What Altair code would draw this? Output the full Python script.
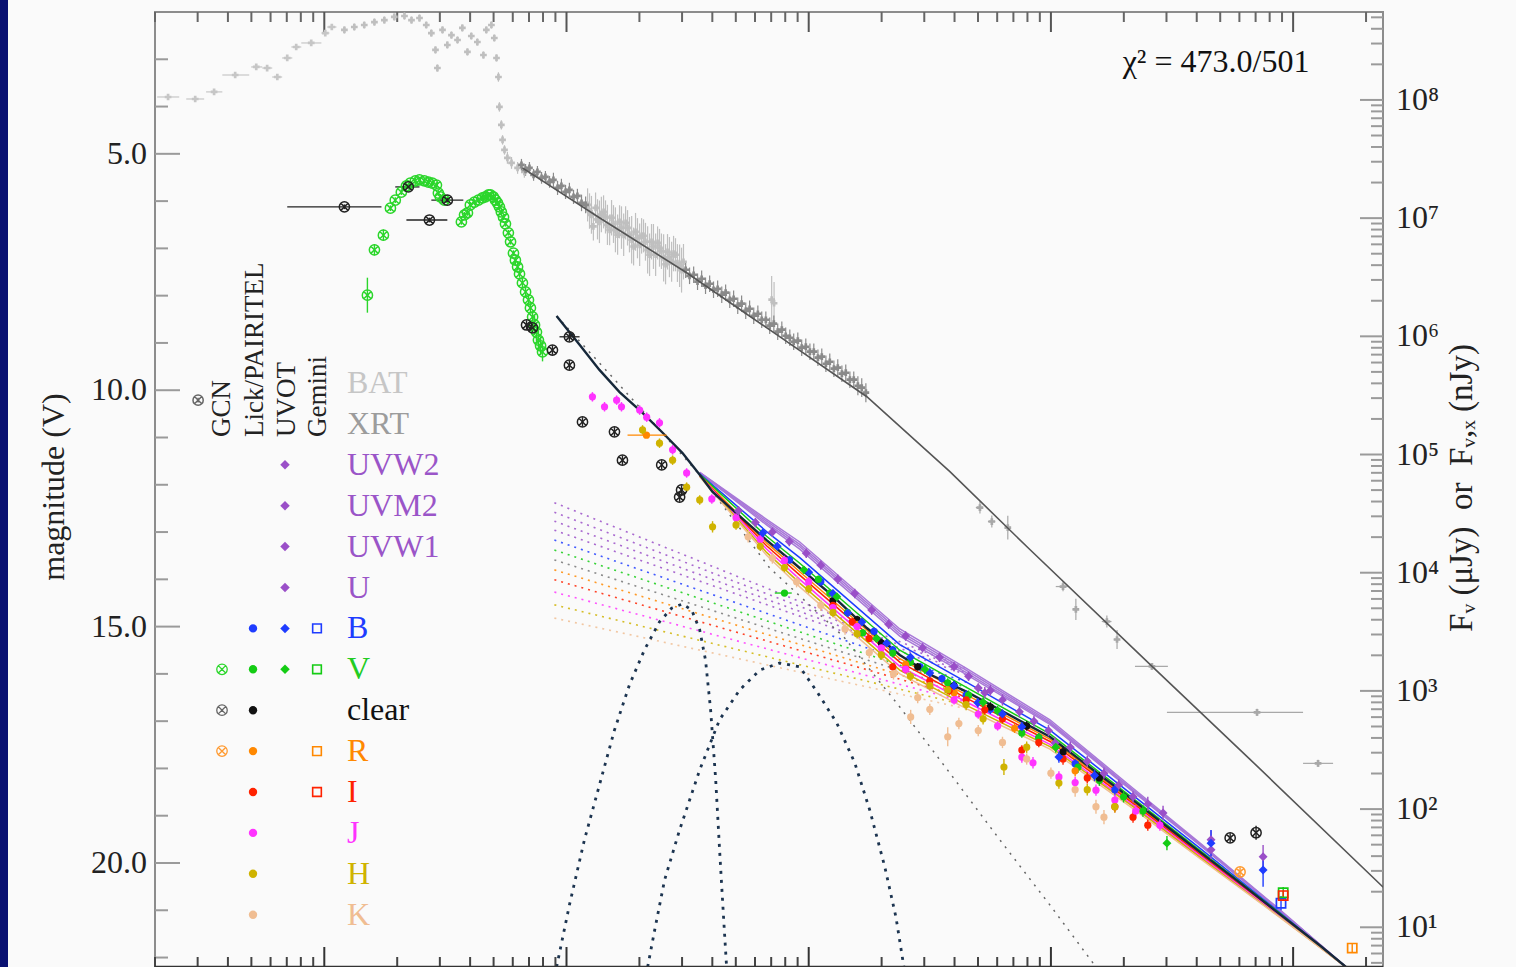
import math
import altair as alt
import pandas as pd

# ===================== values =====================
# time: log10(t / s); X-ray / gamma flux: log10(F) on the right axis; optical: magnitudes

# BAT early binned points: (log t, log t low, log t high, log F)
BAT_BINS = [
    (0.355, 0.310, 0.401, 8.025), (0.467, 0.430, 0.504, 8.008),
    (0.545, 0.512, 0.579, 8.068), (0.632, 0.579, 0.690, 8.211),
    (0.719, 0.698, 0.744, 8.279), (0.764, 0.744, 0.785, 8.270),
    (0.806, 0.785, 0.826, 8.194), (0.847, 0.826, 0.868, 8.355),
    (0.884, 0.864, 0.905, 8.448), (0.946, 0.905, 0.988, 8.482),
    (1.004, 0.988, 1.021, 8.566), (1.031, 1.012, 1.050, 8.617),
]
# BAT finer points: (log t, log F, err dex)
BAT_PTS = [
    (1.083, 8.592, 0.03), (1.124, 8.617, 0.03), (1.165, 8.634, 0.03), (1.207, 8.659, 0.03),
    (1.248, 8.676, 0.03), (1.289, 8.702, 0.03), (1.331, 8.710, 0.03), (1.360, 8.676, 0.03),
    (1.393, 8.693, 0.03), (1.421, 8.634, 0.03), (1.442, 8.566, 0.03), (1.459, 8.423, 0.03),
    (1.467, 8.270, 0.03), (1.488, 8.592, 0.03), (1.508, 8.465, 0.03), (1.525, 8.549, 0.03),
    (1.550, 8.507, 0.03), (1.570, 8.609, 0.03), (1.591, 8.406, 0.03), (1.607, 8.541, 0.03),
    (1.632, 8.490, 0.03), (1.657, 8.380, 0.03), (1.669, 8.592, 0.03), (1.690, 8.634, 0.03),
    (1.702, 8.524, 0.03), (1.711, 8.355, 0.03), (1.719, 8.194, 0.04), (1.723, 7.941, 0.04),
    (1.731, 7.789, 0.04), (1.736, 7.662, 0.04), (1.744, 7.577, 0.04), (1.756, 7.510, 0.05),
    (1.773, 7.467, 0.05), (1.798, 7.425, 0.05), (1.826, 7.391, 0.05),
]
# BAT extended (light cloud): (log t, log F, err dex)
BAT_EXT = [
    (2.087, 7.112, 0.14), (2.103, 7.028, 0.16), (2.120, 7.087, 0.13), (2.136, 6.969, 0.18),
    (2.153, 7.053, 0.14), (2.169, 6.943, 0.17), (2.186, 7.003, 0.15), (2.202, 6.901, 0.19),
    (2.219, 6.969, 0.14), (2.236, 6.859, 0.18), (2.252, 6.918, 0.15), (2.269, 6.817, 0.20),
    (2.285, 6.884, 0.16), (2.302, 6.774, 0.18), (2.318, 6.850, 0.14), (2.335, 6.732, 0.20),
    (2.351, 6.800, 0.15), (2.368, 6.690, 0.18), (2.384, 6.749, 0.16), (2.401, 6.664, 0.20),
    (2.417, 6.715, 0.15), (2.434, 6.631, 0.17), (2.450, 6.690, 0.14), (2.467, 6.597, 0.18),
    (2.483, 6.631, 0.15), (2.095, 7.060, 0.15), (2.128, 6.990, 0.17), (2.161, 7.010, 0.14),
    (2.194, 6.950, 0.16), (2.227, 6.920, 0.18), (2.260, 6.860, 0.15), (2.293, 6.830, 0.17),
    (2.326, 6.800, 0.16), (2.359, 6.760, 0.19), (2.392, 6.720, 0.15), (2.425, 6.670, 0.17),
    (2.458, 6.620, 0.16), (2.847, 6.310, 0.20), (2.857, 6.280, 0.18),
    (2.111, 6.930, 0.12), (2.144, 7.030, 0.15), (2.178, 6.900, 0.13), (2.211, 6.860, 0.17),
    (2.244, 6.960, 0.14), (2.277, 6.760, 0.16), (2.310, 6.850, 0.15), (2.343, 6.690, 0.18),
    (2.376, 6.790, 0.14), (2.409, 6.610, 0.17), (2.442, 6.700, 0.15), (2.475, 6.560, 0.19),
]
# XRT dense points: (log t, log F, err dex)
XRT_PTS = [
    (1.814, 7.451, 0.05), (1.831, 7.408, 0.05), (1.847, 7.425, 0.05), (1.864, 7.366, 0.05),
    (1.880, 7.391, 0.05), (1.897, 7.341, 0.05), (1.913, 7.349, 0.05), (1.930, 7.307, 0.05),
    (1.946, 7.324, 0.06), (1.963, 7.256, 0.06), (1.979, 7.273, 0.06), (1.996, 7.222, 0.06),
    (2.012, 7.239, 0.06), (2.029, 7.180, 0.06), (2.045, 7.188, 0.06), (2.062, 7.129, 0.07),
    (2.079, 7.112, 0.07),
    (2.492, 6.563, 0.07), (2.508, 6.512, 0.07), (2.525, 6.521, 0.07), (2.541, 6.462, 0.07),
    (2.558, 6.487, 0.07), (2.574, 6.428, 0.07), (2.591, 6.445, 0.07), (2.607, 6.394, 0.07),
    (2.624, 6.402, 0.07), (2.641, 6.352, 0.07), (2.657, 6.369, 0.07), (2.674, 6.309, 0.07),
    (2.690, 6.318, 0.07), (2.707, 6.259, 0.07), (2.723, 6.276, 0.07), (2.740, 6.216, 0.07),
    (2.756, 6.233, 0.07), (2.773, 6.174, 0.07), (2.790, 6.191, 0.07), (2.806, 6.140, 0.07),
    (2.823, 6.140, 0.07), (2.839, 6.090, 0.07), (2.856, 6.107, 0.07), (2.872, 6.039, 0.07),
    (2.889, 6.056, 0.07), (2.905, 6.005, 0.07), (2.922, 5.988, 0.07), (2.938, 5.954, 0.07),
    (2.955, 5.963, 0.07), (2.971, 5.904, 0.07), (2.988, 5.912, 0.07), (3.005, 5.870, 0.07),
    (3.021, 5.870, 0.07), (3.038, 5.819, 0.07), (3.054, 5.828, 0.07), (3.071, 5.768, 0.07),
    (3.087, 5.785, 0.07), (3.104, 5.726, 0.07), (3.120, 5.735, 0.07), (3.137, 5.684, 0.07),
    (3.153, 5.692, 0.07), (3.170, 5.633, 0.07), (3.186, 5.633, 0.07), (3.203, 5.582, 0.08),
    (3.219, 5.566, 0.08), (3.236, 5.523, 0.08),
]
# XRT late points: (log t, log F, err dex, log t low, log t high)
XRT_LATE = [
    (3.707, 4.551, 0.05, 3.69, 3.72), (3.756, 4.433, 0.05, 3.74, 3.77),
    (3.822, 4.382, 0.10, 3.81, 3.83), (4.050, 3.883, 0.04, 4.02, 4.07),
    (4.103, 3.689, 0.09, 4.09, 4.11), (4.231, 3.587, 0.05, 4.21, 4.25),
    (4.273, 3.435, 0.08, 4.26, 4.28), (4.417, 3.207, 0.03, 4.347, 4.483),
    (4.851, 2.818, 0.03, 4.479, 5.041), (5.103, 2.387, 0.03, 5.041, 5.165),
]
# X-ray model curve: (log t, log F)
XRAY_MODEL = [
    (1.818, 7.425), (2.136, 7.003), (2.496, 6.538), (2.880, 5.997), (3.240, 5.489),
    (3.583, 4.855), (3.913, 4.196), (4.409, 3.224), (4.822, 2.421), (5.372, 1.339),
]

# ---- optical ----
GCN_V_LOGT = [1.178, 1.207, 1.244, 1.273, 1.293, 1.318, 1.339, 1.355, 1.376, 1.393,
              1.413, 1.430, 1.446, 1.463, 1.471, 1.479, 1.496, 1.566, 1.579, 1.591,
              1.603, 1.620, 1.636, 1.653, 1.665, 1.678, 1.686, 1.698, 1.707, 1.715,
              1.723, 1.731, 1.740, 1.748, 1.760, 1.769, 1.781, 1.789, 1.798, 1.806,
              1.818, 1.831, 1.843, 1.851, 1.860, 1.868, 1.876, 1.884, 1.893, 1.901]
GCN_V_MAG = [7.99, 7.03, 6.72, 6.15, 5.98, 5.81, 5.68, 5.62, 5.57, 5.55,
             5.57, 5.60, 5.62, 5.66, 5.83, 5.91, 5.98, 6.44, 6.29, 6.25,
             6.08, 6.02, 5.98, 5.93, 5.91, 5.87, 5.87, 5.91, 5.98, 6.04,
             6.12, 6.23, 6.34, 6.48, 6.67, 6.86, 7.10, 7.25, 7.39, 7.54,
             7.73, 7.92, 8.09, 8.26, 8.45, 8.62, 8.77, 8.94, 9.06, 9.19]
GCN_V_ERR = [0.37, 0.12, 0.12, 0.06, 0.06, 0.06, 0.06, 0.06, 0.06, 0.06,
             0.06, 0.06, 0.06, 0.06, 0.06, 0.06, 0.06, 0.06, 0.06, 0.06,
             0.06, 0.06, 0.06, 0.06, 0.06, 0.06, 0.06, 0.06, 0.06, 0.06,
             0.06, 0.06, 0.06, 0.06, 0.06, 0.06, 0.06, 0.08, 0.08, 0.08,
             0.10, 0.10, 0.10, 0.10, 0.10, 0.20, 0.20, 0.20, 0.20, 0.20]
# (log t, mag, err, log t low, log t high)
GCN_CLEAR = [
    (1.083, 6.12, 0.05, 0.847, 1.236), (1.347, 5.70, 0.05, 1.293, 1.393),
    (1.434, 6.40, 0.05, 1.339, 1.508), (1.508, 5.98, 0.05, 1.442, 1.574),
    (1.835, 8.62, 0.10), (1.860, 8.68, 0.10), (1.942, 9.15, 0.10), (2.012, 9.47, 0.10),
    (2.012, 8.87, 0.10, 1.971, 2.054), (2.066, 10.67, 0.10), (2.198, 10.88, 0.10),
    (2.231, 11.48, 0.10), (2.393, 11.58, 0.10), (2.467, 12.26, 0.10), (2.475, 12.11, 0.10),
    (4.740, 19.47, 0.10), (4.847, 19.36, 0.15),
]
GCN_CLEAR_EARLY = [(0.479, 10.21, 0.05)]
GCN_R = [(4.781, 20.19, 0.10)]

LICK_B = [(2.921, 13.59, 0.08), (3.05, 14.05, 0.08), (3.27, 15.10, 0.08), (3.347, 15.49, 0.08),
          (3.46, 15.85, 0.08), (3.55, 16.10, 0.08), (3.65, 16.45, 0.10), (3.75, 16.75, 0.10),
          (3.95, 17.35, 0.10), (4.10, 17.90, 0.10), (4.264, 18.45, 0.12)]
LICK_V = [(2.90, 14.29, 0.06, 2.86, 2.93), (3.04, 14.00, 0.08), (3.087, 14.29, 0.08),
          (3.16, 14.70, 0.08), (3.223, 15.13, 0.08), (3.347, 15.56, 0.08), (3.42, 15.75, 0.08),
          (3.574, 16.19, 0.10), (3.66, 16.45, 0.10), (3.78, 16.78, 0.10), (3.880, 17.25, 0.10),
          (3.95, 17.35, 0.10), (4.112, 17.97, 0.12), (4.20, 18.25, 0.12), (4.30, 18.60, 0.12),
          (4.38, 18.90, 0.12)]
LICK_CLEAR = [(3.10, 14.45, 0.08), (3.20, 14.85, 0.08), (3.30, 15.35, 0.08), (3.45, 15.85, 0.08),
              (3.60, 16.25, 0.10), (3.75, 16.70, 0.10), (3.90, 17.10, 0.10), (4.05, 17.65, 0.12),
              (4.20, 18.20, 0.12)]
LICK_R = [(2.33, 10.95, 0.05, 2.252, 2.413), (3.20, 14.95, 0.08), (3.40, 15.80, 0.08),
          (3.60, 16.40, 0.10), (3.85, 17.15, 0.10), (4.10, 18.05, 0.12)]
LICK_I = [(3.10, 14.55, 0.08), (3.18, 14.90, 0.08), (3.25, 15.25, 0.08), (3.347, 15.85, 0.08),
          (3.40, 15.90, 0.08), (3.50, 16.15, 0.08), (3.58, 16.35, 0.10), (3.65, 16.55, 0.10),
          (3.727, 16.76, 0.10), (3.80, 16.95, 0.10), (3.880, 17.61, 0.10), (3.95, 17.45, 0.10),
          (4.05, 17.80, 0.12), (4.15, 18.20, 0.12), (4.264, 18.81, 0.12), (4.339, 19.03, 0.12),
          (4.40, 19.20, 0.12)]
LICK_J = [(2.107, 10.14, 0.10), (2.157, 10.35, 0.10), (2.207, 10.21, 0.10), (2.227, 10.35, 0.10),
          (2.302, 10.42, 0.10), (2.331, 10.57, 0.10), (2.384, 10.69, 0.10), (2.438, 11.26, 0.10),
          (2.496, 11.75, 0.10), (2.60, 12.30, 0.10), (2.70, 12.70, 0.10), (2.80, 13.15, 0.10),
          (2.90, 13.60, 0.10), (3.00, 14.05, 0.10), (3.10, 14.60, 0.10), (3.20, 15.00, 0.10),
          (3.30, 15.45, 0.10), (3.40, 15.90, 0.10), (3.50, 16.25, 0.10), (3.60, 16.55, 0.10),
          (3.70, 16.85, 0.10), (3.78, 17.10, 0.10), (3.880, 17.76, 0.12), (3.926, 17.88, 0.12),
          (4.033, 18.18, 0.12), (4.10, 18.30, 0.12), (4.186, 18.46, 0.12), (4.264, 18.67, 0.12),
          (4.35, 18.90, 0.12), (4.45, 19.20, 0.12)]
LICK_H = [(2.314, 10.84, 0.10), (2.384, 11.12, 0.10), (2.438, 11.48, 0.10), (2.496, 12.05, 0.10),
          (2.550, 12.32, 0.10), (2.603, 12.89, 0.12), (2.70, 12.85, 0.10), (2.80, 13.30, 0.10),
          (2.90, 13.75, 0.10), (3.00, 14.20, 0.10), (3.10, 14.70, 0.10), (3.20, 15.15, 0.10),
          (3.30, 15.60, 0.10), (3.42, 16.05, 0.10), (3.50, 16.25, 0.10), (3.574, 16.34, 0.10),
          (3.65, 16.65, 0.12), (3.72, 16.95, 0.12), (3.806, 17.97, 0.17), (3.90, 17.55, 0.12),
          (4.033, 18.31, 0.12), (4.15, 18.45, 0.12), (4.264, 18.81, 0.12)]
LICK_K = [(2.75, 13.10, 0.12), (2.85, 13.55, 0.12), (2.95, 14.05, 0.12), (3.05, 14.55, 0.12),
          (3.15, 15.05, 0.12), (3.25, 15.55, 0.12), (3.35, 16.00, 0.12), (3.421, 16.91, 0.15),
          (3.45, 16.50, 0.12), (3.50, 16.75, 0.12), (3.574, 17.33, 0.20), (3.62, 17.05, 0.12),
          (3.70, 17.20, 0.12), (3.80, 17.45, 0.12), (3.90, 17.80, 0.12), (4.00, 18.10, 0.12),
          (4.10, 18.45, 0.15), (4.186, 18.81, 0.15), (4.219, 19.03, 0.15)]

UVOT_UVW2 = [(2.71, 12.55, 0.10), (2.99, 13.45, 0.10), (3.26, 14.65, 0.10), (3.54, 15.65, 0.10),
             (3.727, 16.40, 0.12), (3.93, 17.00, 0.12), (4.15, 17.85, 0.12), (4.40, 18.75, 0.15),
             (4.661, 19.51, 0.20)]
UVOT_UVM2 = [(2.78, 12.80, 0.10), (3.05, 13.70, 0.10), (3.33, 14.95, 0.10), (3.60, 15.85, 0.10),
             (3.75, 16.35, 0.12), (3.99, 17.20, 0.12), (4.219, 18.10, 0.12), (4.463, 18.94, 0.15),
             (4.876, 19.87, 0.25)]
UVOT_UVW1 = [(2.85, 13.00, 0.10), (3.12, 14.00, 0.10), (3.40, 15.20, 0.10), (3.66, 16.05, 0.10),
             (3.80, 16.55, 0.12), (4.017, 17.46, 0.12), (4.28, 18.35, 0.12), (4.661, 19.72, 0.20)]
UVOT_U = [(2.92, 13.20, 0.10), (3.19, 14.30, 0.10), (3.47, 15.45, 0.10), (3.70, 16.30, 0.10),
          (3.87, 16.80, 0.12), (4.08, 17.55, 0.12), (4.339, 18.60, 0.12)]
UVOT_B = [(2.810, 13.02, 0.08), (2.87, 13.30, 0.08), (3.00, 13.85, 0.08), (3.10, 14.30, 0.08),
          (3.161, 14.71, 0.08), (3.22, 14.90, 0.08), (3.322, 15.35, 0.08), (3.42, 15.65, 0.08),
          (3.500, 15.98, 0.10), (3.60, 16.25, 0.10), (3.698, 16.61, 0.10), (3.80, 16.85, 0.10),
          (3.880, 17.12, 0.10), (4.033, 17.76, 0.12), (4.18, 18.15, 0.12), (4.661, 19.58, 0.28),
          (4.876, 20.15, 0.35)]
UVOT_V = [(2.98, 13.80, 0.08), (3.116, 14.37, 0.08), (3.28, 15.25, 0.08), (3.48, 15.90, 0.10),
          (3.72, 16.60, 0.10), (4.02, 17.55, 0.12), (4.479, 19.58, 0.15)]

GEMINI_B = [(4.950, 20.85, 0.15)]
GEMINI_V = [(4.959, 20.63, 0.12)]
GEMINI_R = [(5.244, 21.80, 0.10)]
GEMINI_I = [(4.959, 20.69, 0.10)]

# total optical model (clear / V normalisation): (log t, mag)
MODEL_CLEAR = [
    (1.959, 8.43), (2.054, 9.04), (2.136, 9.57), (2.219, 10.04), (2.314, 10.48),
    (2.397, 10.90), (2.479, 11.33), (2.550, 11.79), (2.603, 12.15), (2.686, 12.53),
    (2.826, 13.17), (2.963, 13.76), (3.099, 14.35), (3.240, 15.03), (3.376, 15.60),
    (3.512, 16.04), (3.653, 16.38), (3.789, 16.76), (3.996, 17.33), (4.202, 18.14),
    (4.339, 18.67), (4.492, 19.28), (4.616, 19.77), (4.781, 20.42), (4.934, 21.04),
    (5.112, 21.75), (5.223, 22.22),
]
MODEL_LOGT = [2.55, 2.826, 2.963, 3.376, 3.653, 3.996, 4.339, 4.616, 4.934, 5.223]
MODEL_BANDS = {
    'UVW2': [11.74, 12.73, 13.21, 15.05, 15.89, 16.97, 18.42, 19.58, 20.94, 22.22],
    'UVM2': [11.74, 12.77, 13.26, 15.10, 15.93, 17.01, 18.45, 19.60, 20.95, 22.22],
    'UVW1': [11.75, 12.81, 13.31, 15.15, 15.98, 17.04, 18.47, 19.61, 20.96, 22.22],
    'U':    [11.75, 12.85, 13.36, 15.20, 16.02, 17.07, 18.49, 19.63, 20.97, 22.22],
    'B':    [11.77, 12.99, 13.54, 15.38, 16.18, 17.19, 18.57, 19.69, 21.00, 22.22],
    'V':    [11.78, 13.09, 13.66, 15.50, 16.29, 17.27, 18.63, 19.74, 21.02, 22.22],
    'R':    [11.80, 13.23, 13.84, 15.68, 16.45, 17.38, 18.71, 19.80, 21.05, 22.22],
    'I':    [11.81, 13.29, 13.91, 15.75, 16.52, 17.43, 18.74, 19.82, 21.07, 22.22],
    'J':    [11.81, 13.36, 14.00, 15.84, 16.60, 17.49, 18.78, 19.85, 21.08, 22.22],
    'H':    [11.82, 13.43, 14.08, 15.92, 16.67, 17.54, 18.81, 19.88, 21.10, 22.22],
    'K':    [11.83, 13.49, 14.16, 16.00, 16.74, 17.59, 18.85, 19.91, 21.11, 22.22],
}
# forward-shock component (dotted), start / end (log t) and magnitudes per band
FS_LOGT = [1.950, 3.653]
FS_MAGS = {
    'UVW2': [12.38, 15.89], 'UVM2': [12.58, 15.93], 'UVW1': [12.77, 15.98], 'U': [12.96, 16.02],
    'B': [13.17, 16.18], 'V': [13.38, 16.29], 'clear': [13.59, 16.38], 'R': [13.80, 16.45],
    'I': [14.01, 16.52], 'J': [14.27, 16.60], 'H': [14.54, 16.67], 'K': [14.82, 16.74],
}
# reverse-shock component (gray dotted)
RS_MODEL = [(1.959, 8.43), (2.219, 9.89), (2.550, 11.79), (2.839, 13.76), (3.145, 15.22),
            (3.376, 16.70), (3.583, 18.10), (3.789, 19.51), (3.996, 20.89), (4.186, 22.20)]
# two bump components (dark dotted)
BUMP_1 = [(1.959, 22.20), (2.012, 20.89), (2.074, 19.51), (2.136, 18.35), (2.198, 17.19),
          (2.260, 16.23), (2.322, 15.49), (2.384, 14.90), (2.434, 14.61), (2.479, 14.52),
          (2.517, 14.65), (2.550, 15.07), (2.574, 15.71), (2.595, 16.76), (2.616, 18.24),
          (2.632, 19.72), (2.649, 21.20), (2.661, 22.20)]
BUMP_2 = [(2.335, 22.20), (2.364, 21.42), (2.405, 20.36), (2.467, 19.30), (2.550, 18.03),
          (2.632, 16.97), (2.715, 16.34), (2.798, 15.92), (2.880, 15.77), (2.963, 15.85),
          (3.037, 16.40), (3.116, 17.04), (3.190, 17.88), (3.252, 18.88), (3.314, 20.08),
          (3.360, 21.14), (3.393, 22.20)]

CHI2_TEXT = "χ² = 473.0/501"
LEFT_TITLE = "magnitude (V)"
RIGHT_TITLE = "F\u1d65 (μJy)\u00a0\u00a0or\u00a0\u00a0F\u1d65,\u2093 (nJy)"
LEGEND_ROWS = ['BAT', 'XRT', 'UVW2', 'UVM2', 'UVW1', 'U', 'B', 'V', 'clear', 'R', 'I', 'J', 'H', 'K']
LEGEND_HEADERS = ['GCN', 'Lick/PAIRITEL', 'UVOT', 'Gemini']
LEG_GCN = ['V', 'clear', 'R']
LEG_LICK = ['B', 'V', 'clear', 'R', 'I', 'J', 'H', 'K']
LEG_UVOT = ['UVW2', 'UVM2', 'UVW1', 'U', 'B', 'V']
LEG_GEMINI = ['B', 'V', 'R', 'I']

# ===================== styles / layout =====================
SERIF = 'Liberation Serif'
COL = {
    'BAT': '#c6c6c6', 'XRT': '#9c9c9c',
    'UVW2': '#9a4fc8', 'UVM2': '#9a4fc8', 'UVW1': '#9a4fc8', 'U': '#9a4fc8',
    'B': '#1e3cff', 'V': '#14cc14', 'clear': '#111111', 'R': '#ff8800',
    'I': '#ff2200', 'J': '#ff33ff', 'H': '#cfb300', 'K': '#f0bd92',
}
GCN_SHAPE = 'M -1 0 A 1 1 0 1 1 1 0 A 1 1 0 1 1 -1 0 Z M -0.7 -0.7 L 0.7 0.7 M -0.7 0.7 L 0.7 -0.7'

W, H = 1228, 955
PAD = {'left': 155, 'top': 12, 'right': 133, 'bottom': 0}
T_MIN, T_MAX = 2.0, 2.35e5
M_TOP, M_BOT = 2.0, 22.2
F_TOP_LOG = 8.744
F_BOT_LOG = F_TOP_LOG - (M_BOT - M_TOP) / 2.5
LT0, LT1 = math.log10(T_MIN), math.log10(T_MAX)


def t_at(px):
    return 10 ** (LT0 + px / W * (LT1 - LT0))


def m_at(py):
    return M_TOP + py / H * (M_BOT - M_TOP)


x_scale = alt.Scale(type='log', domain=[T_MIN, T_MAX], nice=False)
m_scale = alt.Scale(domain=[M_TOP, M_BOT], reverse=True, nice=False, zero=False)
f_scale = alt.Scale(type='log', domain=[10 ** F_BOT_LOG, 10 ** F_TOP_LOG], nice=False)
colenc = alt.Color('color:N', scale=None)


def X(f='t'):
    return alt.X(f + ':Q', scale=x_scale, axis=None)


def YM(f='mag'):
    return alt.Y(f + ':Q', scale=m_scale, axis=None)


def YF(f='f'):
    return alt.Y(f + ':Q', scale=f_scale, axis=None)


# ===================== tables =====================
flux_recs = []
for lt, lo, hi, lf in BAT_BINS:
    flux_recs.append(dict(t=10 ** lt, f=10 ** lf, flo=10 ** (lf - 0.01), fhi=10 ** (lf + 0.01),
                          tlo=10 ** lo, thi=10 ** hi, color=COL['BAT']))
for lt, lf, e in BAT_PTS + BAT_EXT:
    flux_recs.append(dict(t=10 ** lt, f=10 ** lf, flo=10 ** (lf - e), fhi=10 ** (lf + e),
                          tlo=10 ** lt, thi=10 ** lt, color='#bfbfbf'))
for lt, lf, e in XRT_PTS:
    flux_recs.append(dict(t=10 ** lt, f=10 ** lf, flo=10 ** (lf - e), fhi=10 ** (lf + e),
                          tlo=10 ** lt, thi=10 ** lt, color='#8a8a8a'))
for lt, lf, e, lo, hi in XRT_LATE:
    flux_recs.append(dict(t=10 ** lt, f=10 ** lf, flo=10 ** (lf - e), fhi=10 ** (lf + e),
                          tlo=10 ** lo, thi=10 ** hi, color='#a8a8a8'))
flux = pd.DataFrame(flux_recs)
flux_h = flux[flux.thi > flux.tlo * 1.0001]
xray_model = pd.DataFrame({'t': [10 ** a for a, _ in XRAY_MODEL], 'f': [10 ** b for _, b in XRAY_MODEL]})

opt_recs = []


def add_opt(series, inst, color):
    for p in series:
        lt, m, e = p[0], p[1], p[2]
        lo = p[3] if len(p) > 3 else lt
        hi = p[4] if len(p) > 4 else lt
        opt_recs.append(dict(t=10 ** lt, mag=m, mlo=m - e, mhi=m + e, tlo=10 ** lo, thi=10 ** hi,
                             inst=inst, color=color))


add_opt(list(zip(GCN_V_LOGT, GCN_V_MAG, GCN_V_ERR)), 'gcn', '#2bd62b')
add_opt(GCN_CLEAR, 'gcn', '#222222')
add_opt(GCN_CLEAR_EARLY, 'gcn', '#666666')
add_opt(GCN_R, 'gcn', '#ff9a30')
for ser, band in [(LICK_B, 'B'), (LICK_V, 'V'), (LICK_CLEAR, 'clear'), (LICK_R, 'R'), (LICK_I, 'I'),
                  (LICK_J, 'J'), (LICK_H, 'H'), (LICK_K, 'K')]:
    add_opt(ser, 'lick', COL[band])
for ser, band in [(UVOT_UVW2, 'UVW2'), (UVOT_UVM2, 'UVM2'), (UVOT_UVW1, 'UVW1'), (UVOT_U, 'U'),
                  (UVOT_B, 'B'), (UVOT_V, 'V')]:
    add_opt(ser, 'uvot', COL[band])
for ser, band in [(GEMINI_B, 'B'), (GEMINI_V, 'V'), (GEMINI_R, 'R'), (GEMINI_I, 'I')]:
    add_opt(ser, 'gemini', COL[band])
opt = pd.DataFrame(opt_recs)
opt_h = opt[opt.thi > opt.tlo * 1.0001]

band_lines = pd.DataFrame([dict(band=b, t=10 ** lt, mag=m, color=('#a878d8' if b.startswith('U') else COL[b]))
                           for b, mags in MODEL_BANDS.items() for lt, m in zip(MODEL_LOGT, mags)])
clear_line = pd.DataFrame({'t': [10 ** a for a, _ in MODEL_CLEAR], 'mag': [b for _, b in MODEL_CLEAR]})
fs_lines = pd.DataFrame([dict(band=b, t=10 ** lt, mag=m, color=('#777777' if b == 'clear' else COL[b]))
                         for b, mags in FS_MAGS.items() for lt, m in zip(FS_LOGT, mags)])
rs_line = pd.DataFrame({'t': [10 ** a for a, _ in RS_MODEL], 'mag': [b for _, b in RS_MODEL]})
bumps = pd.DataFrame([dict(bump=name, t=10 ** a, mag=b) for name, ser in [('1', BUMP_1), ('2', BUMP_2)]
                      for a, b in ser])

# legend (placed in data space from pixel layout)
ROW_Y0, ROW_DY = 371, 40.9
COL_PX = {'gcn': 67, 'lick': 98, 'uvot': 130, 'gemini': 162}
LABEL_PX = 192
row_mag = {name: m_at(ROW_Y0 + i * ROW_DY) for i, name in enumerate(LEGEND_ROWS)}
leg_text = pd.DataFrame([dict(t=t_at(LABEL_PX), mag=row_mag[n], text=n,
                              color=('#9a55c8' if n.startswith('U') else ('#22cc22' if n == 'V' else COL[n])))
                         for n in LEGEND_ROWS])
leg_sym = []
for inst, names in [('gcn', LEG_GCN), ('lick', LEG_LICK), ('uvot', LEG_UVOT), ('gemini', LEG_GEMINI)]:
    for n in names:
        c = COL[n]
        if inst == 'gcn':
            c = {'V': '#2bd62b', 'clear': '#666666', 'R': '#ff9a30'}[n]
        leg_sym.append(dict(t=t_at(COL_PX[inst]), mag=row_mag[n], inst=inst, color=c))
leg_sym = pd.DataFrame(leg_sym)
HEAD_PX = [67, 100, 132, 163]
leg_head = pd.DataFrame({'t': [t_at(p) for p in HEAD_PX], 'mag': [m_at(425)] * 4, 'text': LEGEND_HEADERS})
chi2 = pd.DataFrame({'t': [t_at(1061)], 'mag': [m_at(50)], 'text': [CHI2_TEXT]})

# ticks and tick labels
SUP = '⁰¹²³⁴⁵⁶⁷⁸⁹'
x_major = [10, 100, 1e3, 1e4, 1e5]
x_minor = [k * 10 ** n for n in range(0, 6) for k in range(2, 10) if T_MIN <= k * 10 ** n <= T_MAX]
m_major = [5, 10, 15, 20]
m_minor = [m for m in range(3, 23) if m not in m_major]
f_major = [10.0 ** n for n in range(1, 9)]
f_minor = [k * 10.0 ** n for n in range(0, 9) for k in range(2, 10)
           if 10 ** F_BOT_LOG <= k * 10.0 ** n <= 10 ** F_TOP_LOG]
m_lab = pd.DataFrame({'v': m_major, 'text': [f'{m:.1f}' for m in m_major]})
f_lab = pd.DataFrame({'v': f_major, 'text': ['10' + SUP[n] for n in range(1, 9)]})
one = pd.DataFrame({'a': [0]})

# ===================== layers =====================
strip = alt.Chart(one).mark_rect(color='#0a1172').encode(
    x=alt.value(-PAD['left']), x2=alt.value(-PAD['left'] + 8), y=alt.value(-PAD['top']), y2=alt.value(H + 2))

mag_tick_major = alt.Chart(pd.DataFrame({'v': m_major})).mark_rule(color='#9a9a9a', strokeWidth=2).encode(
    y=YM('v'), x=alt.value(0), x2=alt.value(25))
mag_tick_minor = alt.Chart(pd.DataFrame({'v': m_minor})).mark_rule(color='#9a9a9a', strokeWidth=2).encode(
    y=YM('v'), x=alt.value(0), x2=alt.value(13))
mag_labels = alt.Chart(m_lab).mark_text(align='right', baseline='middle', font=SERIF, fontSize=32,
                                        color='#222').encode(y=YM('v'), x=alt.value(-8), text='text:N')
left_title = alt.Chart(one).mark_text(angle=270, align='center', baseline='middle', font=SERIF, fontSize=32,
                                      color='#222', text=LEFT_TITLE).encode(x=alt.value(-101), y=alt.value(475))
xt_top_major = alt.Chart(pd.DataFrame({'v': x_major})).mark_rule(color='#555', strokeWidth=2).encode(
    x=X('v'), y=alt.value(0), y2=alt.value(20))
xt_top_minor = alt.Chart(pd.DataFrame({'v': x_minor})).mark_rule(color='#666', strokeWidth=2).encode(
    x=X('v'), y=alt.value(0), y2=alt.value(10))
xt_bot_major = alt.Chart(pd.DataFrame({'v': x_major})).mark_rule(color='#333', strokeWidth=2).encode(
    x=X('v'), y=alt.value(H), y2=alt.value(H - 20))
xt_bot_minor = alt.Chart(pd.DataFrame({'v': x_minor})).mark_rule(color='#444', strokeWidth=2).encode(
    x=X('v'), y=alt.value(H), y2=alt.value(H - 10))
bottom_rule = alt.Chart(one).mark_rule(color='#333', strokeWidth=2.5).encode(
    x=alt.value(0), x2=alt.value(W), y=alt.value(H))

fs_layer = alt.Chart(fs_lines).mark_line(strokeDash=[2, 5], strokeWidth=1.6, clip=True, opacity=0.85).encode(
    x=X(), y=YM(), color=colenc, detail='band:N')
rs_layer = alt.Chart(rs_line).mark_line(color='#666', strokeDash=[2, 6], strokeWidth=1.5, clip=True).encode(
    x=X(), y=YM())
bump_layer = alt.Chart(bumps).mark_line(color='#1c3450', strokeDash=[3, 6], strokeWidth=2.8, clip=True).encode(
    x=X(), y=YM(), detail='bump:N')
band_layer = alt.Chart(band_lines).mark_line(strokeWidth=1.5, clip=True).encode(
    x=X(), y=YM(), color=colenc, detail='band:N')
clear_layer = alt.Chart(clear_line).mark_line(color='#16283a', strokeWidth=2.4, clip=True).encode(
    x=X(), y=YM())

opt_v = alt.Chart(opt).mark_rule(strokeWidth=1.4).encode(x=X(), y=YM('mlo'), y2='mhi:Q', color=colenc)
opt_hb = alt.Chart(opt_h).mark_rule(strokeWidth=1.3).encode(x=X('tlo'), x2='thi:Q', y=YM(), color=colenc)
gcn_pts = alt.Chart(opt[opt.inst == 'gcn']).mark_point(shape=GCN_SHAPE, filled=False, size=105,
                                                          strokeWidth=1.5, opacity=1).encode(
    x=X(), y=YM(), color=colenc)
lick_pts = alt.Chart(opt[opt.inst == 'lick']).mark_circle(size=52, opacity=1).encode(
    x=X(), y=YM(), color=colenc)
uvot_pts = alt.Chart(opt[opt.inst == 'uvot']).mark_point(shape='diamond', filled=True, size=80, opacity=1).encode(
    x=X(), y=YM(), color=colenc)
gem_pts = alt.Chart(opt[opt.inst == 'gemini']).mark_point(shape='square', filled=False, size=85,
                                                           strokeWidth=1.7, opacity=1).encode(
    x=X(), y=YM(), color=colenc)

leg_gcn = alt.Chart(leg_sym[leg_sym.inst == 'gcn']).mark_point(shape=GCN_SHAPE, filled=False, size=110,
                                                                strokeWidth=1.3, opacity=1).encode(
    x=X(), y=YM(), color=colenc)
leg_lick = alt.Chart(leg_sym[leg_sym.inst == 'lick']).mark_circle(size=70, opacity=1).encode(
    x=X(), y=YM(), color=colenc)
leg_uvot = alt.Chart(leg_sym[leg_sym.inst == 'uvot']).mark_point(shape='diamond', filled=True, size=90,
                                                                  opacity=1).encode(
    x=X(), y=YM(), color=colenc)
leg_gem = alt.Chart(leg_sym[leg_sym.inst == 'gemini']).mark_point(shape='square', filled=False, size=75,
                                                                   strokeWidth=1.6, opacity=1).encode(
    x=X(), y=YM(), color=colenc)
leg_txt = alt.Chart(leg_text).mark_text(align='left', baseline='middle', font=SERIF, fontSize=32).encode(
    x=X(), y=YM(), text='text:N', color=colenc)
leg_hdr = alt.Chart(leg_head).mark_text(angle=270, align='left', baseline='middle', font=SERIF, fontSize=27,
                                        color='#222').encode(x=X(), y=YM(), text='text:N')
chi2_txt = alt.Chart(chi2).mark_text(align='center', baseline='middle', font=SERIF, fontSize=32,
                                     color='#111').encode(x=X(), y=YM(), text='text:N')

mag_group = alt.layer(
    strip, mag_tick_major, mag_tick_minor, mag_labels, left_title,
    fs_layer, rs_layer, bump_layer, band_layer, clear_layer,
    opt_v, opt_hb, gcn_pts, lick_pts, uvot_pts, gem_pts,
    leg_gcn, leg_lick, leg_uvot, leg_gem, leg_txt, leg_hdr, chi2_txt,
    xt_top_major, xt_top_minor, xt_bot_major, xt_bot_minor, bottom_rule,
)

f_tick_major = alt.Chart(pd.DataFrame({'v': f_major})).mark_rule(color='#9a9a9a', strokeWidth=2).encode(
    y=YF('v'), x=alt.value(W - 23), x2=alt.value(W))
f_tick_minor = alt.Chart(pd.DataFrame({'v': f_minor})).mark_rule(color='#9a9a9a', strokeWidth=2).encode(
    y=YF('v'), x=alt.value(W - 12), x2=alt.value(W))
f_labels = alt.Chart(f_lab).mark_text(align='left', baseline='middle', font=SERIF, fontSize=32,
                                      color='#222').encode(y=YF('v'), x=alt.value(W + 13), text='text:N')
right_title = alt.Chart(one).mark_text(angle=270, align='center', baseline='middle', font=SERIF, fontSize=33,
                                       color='#222', text=RIGHT_TITLE).encode(x=alt.value(W + 79), y=alt.value(476))
flux_hb = alt.Chart(flux_h).mark_rule(strokeWidth=1.2).encode(x=X('tlo'), x2='thi:Q', y=YF(), color=colenc)
flux_vb = alt.Chart(flux).mark_rule(strokeWidth=1.2).encode(x=X(), y=YF('flo'), y2='fhi:Q', color=colenc)
flux_pts = alt.Chart(flux).mark_point(shape='cross', filled=True, size=45, opacity=1).encode(
    x=X(), y=YF(), color=colenc)
xray_line = alt.Chart(xray_model).mark_line(color='#555', strokeWidth=1.6, clip=True).encode(x=X(), y=YF())

flux_group = alt.layer(f_tick_major, f_tick_minor, f_labels, right_title, flux_hb, flux_vb, flux_pts, xray_line)

chart = alt.layer(mag_group, flux_group).resolve_scale(y='independent').properties(
    width=W, height=H, padding=PAD, autosize=alt.AutoSizeParams(type='none'), background='#fafafa'
).configure_view(stroke='#8c8c8c', strokeWidth=2)

chart.save("out.html", embed_options={"renderer": "svg", "actions": False})
